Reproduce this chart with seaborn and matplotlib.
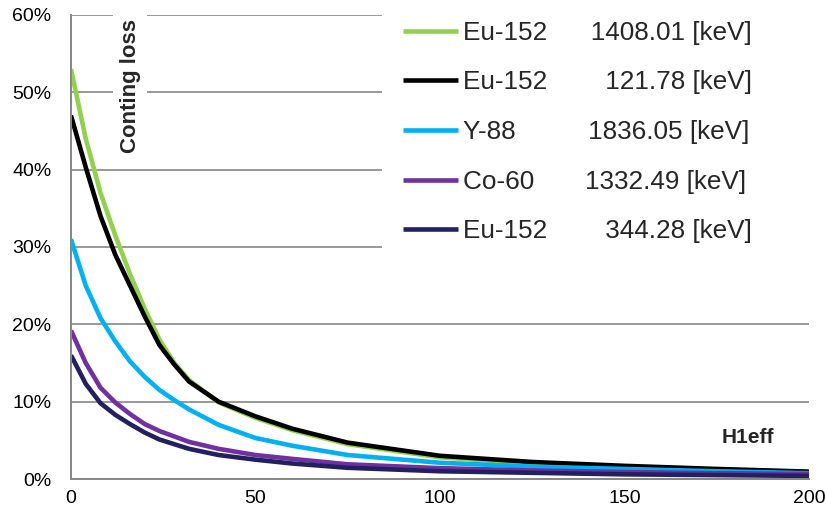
"""
    Counting loss vs H1eff for several gamma lines.
"""
import pandas as pd
import seaborn as sns
import matplotlib.pyplot as plt
from matplotlib.ticker import FuncFormatter

#---- Data (values in %) ----#
h1eff = [0, 4, 8, 12, 16, 20, 24, 28, 32, 40, 50, 60, 75, 100, 125, 150, 175, 200]

eu152_1408 = [53.0, 44.0, 37.0, 31.5, 26.5, 22.0, 18.0, 15.0, 12.8, 9.9, 7.9, 6.3, 4.5, 2.8, 2.0, 1.5, 1.2, 0.9]
eu152_121 = [47.0, 40.3, 34.0, 29.0, 25.0, 21.0, 17.3, 14.8, 12.6, 10.0, 8.1, 6.5, 4.7, 3.0, 2.2, 1.7, 1.3, 0.95]
y88_1836 = [31.0, 25.0, 20.8, 17.8, 15.2, 13.2, 11.5, 10.2, 9.0, 7.0, 5.3, 4.3, 3.1, 2.1, 1.6, 1.3, 1.0, 0.75]
co60_1332 = [19.2, 15.0, 11.8, 9.9, 8.4, 7.1, 6.2, 5.5, 4.8, 3.9, 3.1, 2.6, 1.9, 1.4, 1.1, 0.9, 0.75, 0.65]
eu152_344 = [16.0, 12.3, 9.8, 8.3, 7.1, 6.0, 5.1, 4.5, 3.9, 3.1, 2.5, 2.0, 1.45, 1.0, 0.8, 0.6, 0.5, 0.4]

labels = ["Eu-152      1408.01 [keV]",
          "Eu-152        121.78 [keV]",
          "Y-88          1836.05 [keV]",
          "Co-60       1332.49 [keV]",
          "Eu-152        344.28 [keV]"]
series = [eu152_1408, eu152_121, y88_1836, co60_1332, eu152_344]
colors = ["#92D050", "#000000", "#00B0F0", "#7030A0", "#23205F"]

y_ticks = [0, 10, 20, 30, 40, 50, 60]
x_ticks = [0, 50, 100, 150, 200]

df = pd.concat([pd.DataFrame({'h1eff': h1eff, 'loss': vals, 'line': lab})
                for lab, vals in zip(labels, series)], ignore_index=True)

#---- Plot ----#
sns.set_theme(style="white")
plt.rcParams['font.family'] = ['Liberation Sans', 'DejaVu Sans']

fig = plt.figure(figsize=(8.26, 5.16), dpi=100)
ax = fig.add_axes([71/826, 1 - 479/516, 738/826, 464/516])

sns.lineplot(data=df, x='h1eff', y='loss', hue='line', hue_order=labels,
             palette=dict(zip(labels, colors)), linewidth=3.3, ax=ax,
             solid_capstyle='butt', solid_joinstyle='round')

ax.set_xlim(0, 200)
ax.set_ylim(0, 60)
ax.set_xticks(x_ticks)
ax.set_yticks(y_ticks)
ax.yaxis.set_major_formatter(FuncFormatter(lambda v, p: "{:.0f}%".format(v)))
ax.tick_params(axis='both', length=0, labelsize=14, colors='#000000')
ax.tick_params(axis='y', pad=14)
ax.tick_params(axis='x', pad=8)
ax.set_xlabel('')
ax.set_ylabel('')

ax.grid(axis='y', color='#868686', linewidth=1.2)
ax.set_axisbelow(True)
for side in ['top', 'right']:
    ax.spines[side].set_visible(False)
for side in ['left', 'bottom']:
    ax.spines[side].set_color('#868686')
    ax.spines[side].set_linewidth(1.4)

ax.text(0.08, 0.847, 'Conting loss', rotation=90, fontsize=16, fontweight='bold',
        ha='center', va='center', transform=ax.transAxes,
        bbox=dict(facecolor='white', edgecolor='none', pad=5))
ax.text(0.917, 0.09, 'H1eff', fontsize=15, fontweight='bold',
        ha='center', va='center', transform=ax.transAxes)

# legend on a white block that hides the gridlines up to the right edge
handles, labs = ax.get_legend_handles_labels()
ax.get_legend().remove()
leg = fig.legend(handles, labs, loc='upper left',
                 bbox_to_anchor=(382/826, 0, 444/826, 1.0), mode='expand',
                 fontsize=18.8, frameon=True, facecolor='white', edgecolor='none',
                 framealpha=1, fancybox=False, borderpad=0.8, borderaxespad=0,
                 handlelength=2.1, handletextpad=0.2, labelspacing=0.98)
for line in leg.get_lines():
    line.set_linewidth(3.3)

fig.savefig('out.png', dpi=100)
plt.close()
